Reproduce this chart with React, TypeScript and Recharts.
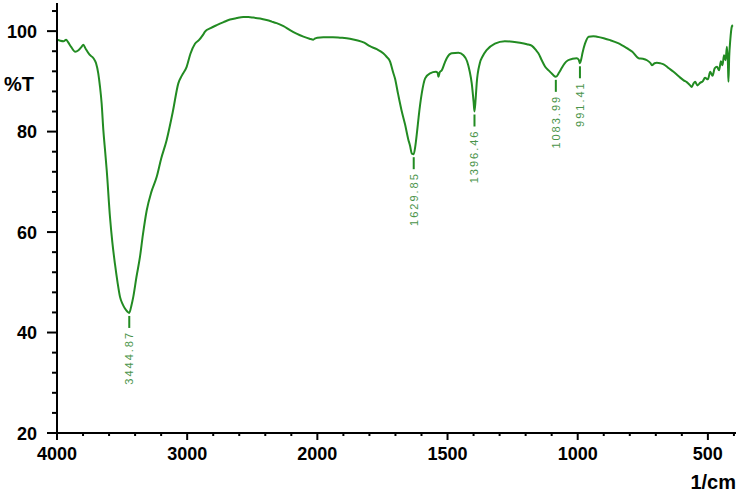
import React from 'react';
import { ComposedChart, Line, Scatter, XAxis, YAxis } from 'recharts';

// spectrum (1/cm, %T)
const wavenumbers = [
  4000, 3975, 3950, 3930, 3915, 3890, 3860, 3835, 3810, 3798, 3780, 3750, 3720, 3700, 3683, 3670,
  3657, 3644, 3630, 3618, 3593, 3575, 3555, 3535, 3516, 3495, 3478, 3460, 3445, 3430, 3414, 3390,
  3363, 3340, 3311, 3275, 3234, 3200, 3158, 3110, 3068, 3040, 3004, 2975, 2940, 2910, 2880, 2863,
  2820, 2773, 2720, 2671, 2620, 2569, 2530, 2492, 2440, 2390, 2350, 2313, 2260, 2210, 2160, 2107,
  2060, 2031, 2020, 2000, 1977, 1940, 1913, 1875, 1849, 1820, 1798, 1772, 1747, 1734, 1721, 1709,
  1702, 1690, 1677, 1663, 1651, 1644, 1637, 1630, 1624, 1617, 1611, 1599, 1586, 1567, 1545, 1538,
  1535, 1530, 1522, 1510, 1503, 1484, 1458, 1439, 1425, 1415, 1407, 1400, 1396.5, 1392, 1388, 1376,
  1365, 1350, 1318, 1280, 1250, 1222, 1195, 1177, 1160, 1151, 1138, 1125, 1106, 1095, 1084, 1072,
  1062, 1050, 1037, 1020, 1004, 996, 991.4, 987, 981, 972, 958, 940, 926, 900, 875, 845,
  811, 790, 766, 750, 734, 720, 715, 705, 696, 683, 670, 650, 632, 612, 593, 580,
  570, 562, 555, 549, 540, 530, 520, 511, 500, 491, 482, 474, 465, 457, 450, 444,
  438, 432, 427, 423, 421, 418, 414, 408, 404,
];
const transmittance = [
  98.3, 98.1, 98.0, 98.3, 97.8, 96.8, 95.9, 96.2, 96.9, 97.3, 96.5, 95.3, 94.6, 93.6, 91.6, 89.0,
  85.6, 80.3, 76.0, 72.3, 63.0, 58.0, 53.7, 50.0, 47.1, 45.6, 44.8, 44.2, 43.9, 45.2, 47.1, 51.0,
  55.0, 59.5, 64.3, 68.0, 71.0, 74.6, 78.3, 84.0, 89.6, 91.2, 92.9, 95.5, 97.5, 98.2, 99.2, 99.9,
  100.6, 101.2, 101.8, 102.3, 102.6, 102.8, 102.8, 102.7, 102.5, 102.2, 101.9, 101.6, 101.0, 100.2, 99.5, 98.9,
  98.5, 98.3, 98.5, 98.7, 98.8, 98.8, 98.7, 98.5, 98.2, 97.7, 97.0, 96.4, 95.6, 94.9, 94.0, 91.8,
  90.6, 87.5, 84.3, 81.4, 78.5, 77.2, 75.6, 75.5, 77.0, 80.0, 82.9, 87.6, 90.6, 91.6, 91.9, 91.7,
  90.9, 91.8, 92.2, 93.8, 94.6, 95.6, 95.7, 95.2, 94.0, 92.0, 89.6, 86.0, 84.0, 86.5, 89.6, 93.6,
  95.0, 96.2, 97.5, 98.0, 97.9, 97.7, 97.4, 97.1, 96.2, 95.6, 94.2, 92.9, 91.9, 91.3, 90.9, 91.7,
  92.6, 93.6, 94.2, 94.5, 94.6, 94.3, 93.6, 94.3, 95.8, 97.5, 98.9, 99.0, 98.9, 98.6, 98.2, 97.6,
  96.6, 95.9, 94.6, 94.5, 94.2, 93.6, 93.2, 93.6, 93.7, 93.6, 93.4, 92.6, 91.9, 91.0, 90.2, 89.8,
  89.3, 88.9, 89.6, 89.9, 89.2, 89.7, 90.0, 90.7, 90.4, 91.9, 91.1, 92.6, 92.9, 92.2, 94.0, 93.2,
  95.2, 94.2, 96.9, 93.5, 89.9, 95.0, 98.2, 100.9, 101.2,
];

const peakWavenumbers = [3444.87, 1629.85, 1396.46, 1083.99, 991.41];
const peakTransmittance = [43.9, 75.5, 84.0, 90.9, 93.6];

const xMajorWavenumbers = [4000, 3000, 2000, 1500, 1000, 500];
const yMajorTicks = [20, 40, 60, 80, 100];

// the x axis is split: 4000-2000 drawn at half the scale of 2000-400
const toAxis = (w: number) => (w >= 2000 ? (4000 - w) / 2 : 1000 + (2000 - w));
const fromAxis = (t: number) => (t <= 1000 ? 4000 - t * 2 : 2000 - (t - 1000));

const spectrum = wavenumbers.map((w, i) => ({ t: toAxis(w), T: transmittance[i] }));
const peaks = peakWavenumbers.map((w, i) => ({ t: toAxis(w), T: peakTransmittance[i], label: w.toFixed(2) }));

const xMajor = xMajorWavenumbers.map(toAxis);
const xTicks: number[] = [];
for (let t = 0; t <= 2600; t += 100) xTicks.push(t);
const yTicks: number[] = [];
for (let v = 20; v <= 104; v += 4) yTicks.push(v);

const FONT = '"Liberation Sans", Arial, sans-serif';
const GREEN = '#228b22';
const LABEL_GREEN = '#4a944a';

const XTick = (props: any) => {
  const { x, y, payload } = props;
  const major = xMajor.includes(payload.value);
  return (
    <g>
      <line x1={x} x2={x} y1={y} y2={y + (major ? 7 : 3)} stroke="#000" strokeWidth={2} />
      {major && (
        <text x={x} y={y + 27} textAnchor="middle" fontFamily={FONT} fontSize={18} fontWeight="bold" fill="#000">
          {Math.round(fromAxis(payload.value))}
        </text>
      )}
    </g>
  );
};

const YTick = (props: any) => {
  const { x, y, payload } = props;
  const major = yMajorTicks.includes(payload.value);
  return (
    <g>
      <line x1={x - (major ? 10 : 5)} x2={x} y1={y} y2={y} stroke="#000" strokeWidth={2} />
      {major && (
        <text x={x - 20} y={y + 6.5} textAnchor="end" fontFamily={FONT} fontSize={18} fontWeight="bold" fill="#000">
          {payload.value}
        </text>
      )}
    </g>
  );
};

const PeakMark = (props: any) => {
  const { cx, cy, payload } = props;
  const top = cy + 18;
  return (
    <g>
      <line x1={cx} x2={cx} y1={cy + 3} y2={cy + 15} stroke={GREEN} strokeWidth={2} />
      <text
        x={cx}
        y={top}
        transform={`rotate(-90, ${cx}, ${top})`}
        textAnchor="end"
        dominantBaseline="central"
        fontFamily={FONT}
        fontSize={11}
        fill={LABEL_GREEN}
        style={{ letterSpacing: '2px' }}
      >
        {payload.label}
      </text>
    </g>
  );
};

export default function App() {
  return (
    <div style={{ position: 'absolute', left: 0, top: 0 }}>
      <ComposedChart width={742} height={492} margin={{ top: 3, right: 6, bottom: 0, left: 0 }}>
        <XAxis
          xAxisId="bottom"
          type="number"
          dataKey="t"
          domain={[0, toAxis(392)]}
          allowDataOverflow
          ticks={xTicks}
          interval={0}
          tick={<XTick />}
          tickLine={false}
          tickSize={0}
          tickMargin={0}
          height={59}
          axisLine={{ stroke: '#000', strokeWidth: 2 }}
          label={{
            content: (p: any) => (
              <text
                x={p.viewBox.x + p.viewBox.width}
                y={p.viewBox.y + 56}
                textAnchor="end"
                fontFamily={FONT}
                fontSize={20}
                fontWeight="bold"
                fill="#000"
              >
                1/cm
              </text>
            ),
          }}
        />
        <XAxis
          xAxisId="top"
          orientation="top"
          type="number"
          dataKey="t"
          domain={[0, toAxis(392)]}
          allowDataOverflow
          height={0}
          tick={false}
          tickLine={false}
          axisLine={{ stroke: '#000', strokeWidth: 2 }}
        />
        <YAxis
          yAxisId="left"
          type="number"
          domain={[20, 105.6]}
          allowDataOverflow
          ticks={yTicks}
          interval={0}
          tick={<YTick />}
          tickLine={false}
          tickSize={0}
          tickMargin={0}
          width={57}
          axisLine={{ stroke: '#000', strokeWidth: 2 }}
          label={{
            content: (p: any) => (
              <text x={p.viewBox.x + 4} y={p.viewBox.y + 88} fontFamily={FONT} fontSize={20} fontWeight="bold" fill="#000">
                %T
              </text>
            ),
          }}
        />
        <YAxis
          yAxisId="right"
          orientation="right"
          type="number"
          domain={[20, 105.6]}
          allowDataOverflow
          width={0}
          tick={false}
          tickLine={false}
          axisLine={{ stroke: '#000', strokeWidth: 2 }}
        />
        <Line
          xAxisId="bottom"
          yAxisId="left"
          data={spectrum}
          dataKey="T"
          type="monotone"
          stroke={GREEN}
          strokeWidth={2}
          dot={false}
          isAnimationActive={false}
        />
        <Scatter
          xAxisId="bottom"
          yAxisId="left"
          data={peaks}
          dataKey="T"
          shape={<PeakMark />}
          isAnimationActive={false}
        />
      </ComposedChart>
    </div>
  );
}
